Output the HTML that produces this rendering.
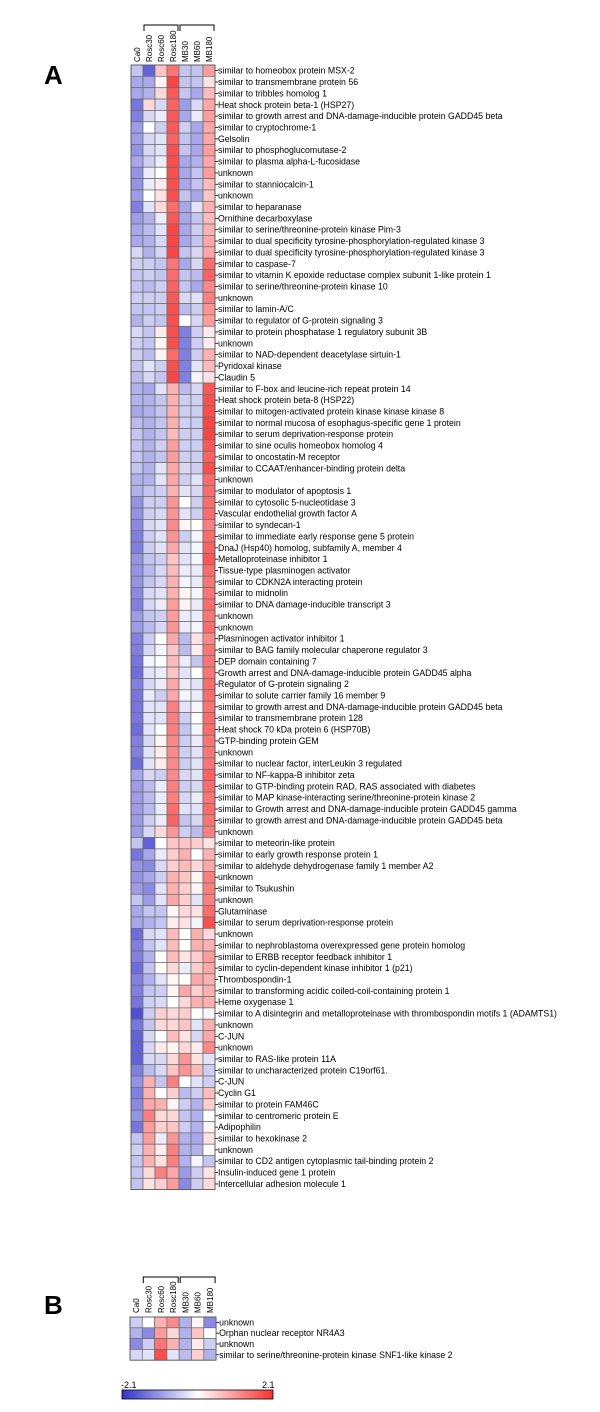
<!DOCTYPE html>
<html><head><meta charset="utf-8">
<style>
html,body{margin:0;padding:0;background:#fff;}
svg{display:block;font-family:"Liberation Sans",Arial,sans-serif;}
</style></head>
<body>
<svg id="fig" width="600" height="1412" viewBox="0 0 600 1412">
<text x="44" y="84" font-size="26" font-weight="bold">A</text>
<text x="44" y="1314" font-size="26" font-weight="bold">B</text>
<g id="panelA"></g>
<g id="panelB"></g>
<g id="cbar"></g>
</svg>
<script>
const columns = ["Ca0","Rosc30","Rosc60","Rosc180","MB30","MB60","MB180"];
const groups = [{name:"Rosc",from:1,to:3},{name:"MB",from:4,to:6}];
const scaleMin = -2.1, scaleMax = 2.1;

const labelsA = [
"similar to homeobox protein MSX-2","similar to transmembrane protein 56","similar to tribbles homolog 1","Heat shock protein beta-1 (HSP27)","similar to growth arrest and DNA-damage-inducible protein GADD45 beta","similar to cryptochrome-1","Gelsolin","similar to phosphoglucomutase-2","similar to plasma alpha-L-fucosidase","unknown","similar to stanniocalcin-1","unknown","similar to heparanase","Ornithine decarboxylase","similar to serine/threonine-protein kinase Pim-3","similar to dual specificity tyrosine-phosphorylation-regulated kinase 3","similar to dual specificity tyrosine-phosphorylation-regulated kinase 3","similar to caspase-7","similar to vitamin K epoxide reductase complex subunit 1-like protein 1","similar to serine/threonine-protein kinase 10","unknown","similar to lamin-A/C","similar to regulator of G-protein signaling 3","similar to protein phosphatase 1 regulatory subunit 3B","unknown","similar to NAD-dependent deacetylase sirtuin-1","Pyridoxal kinase","Claudin 5","similar to F-box and leucine-rich repeat protein 14","Heat shock protein beta-8 (HSP22)","similar to mitogen-activated protein kinase kinase kinase 8","similar to normal mucosa of esophagus-specific gene 1 protein","similar to serum deprivation-response protein","similar to sine oculis homeobox homolog 4","similar to oncostatin-M receptor","similar to CCAAT/enhancer-binding protein delta","unknown","similar to modulator of apoptosis 1","similar to cytosolic 5-nucleotidase 3","Vascular endothelial growth factor A","similar to syndecan-1","similar to immediate early response gene 5 protein","DnaJ (Hsp40) homolog, subfamily A, member 4","Metalloproteinase inhibitor 1","Tissue-type plasminogen activator","similar to CDKN2A interacting protein","similar to midnolin","similar to DNA damage-inducible transcript 3","unknown","unknown","Plasminogen activator inhibitor 1","similar to BAG family molecular chaperone regulator 3","DEP domain containing 7","Growth arrest and DNA-damage-inducible protein GADD45 alpha","Regulator of G-protein signaling 2","similar to solute carrier family 16 member 9","similar to growth arrest and DNA-damage-inducible protein GADD45 beta","similar to transmembrane protein 128","Heat shock 70 kDa protein 6 (HSP70B)","GTP-binding protein GEM","unknown","similar to nuclear factor, interLeukin 3 regulated","similar to NF-kappa-B inhibitor zeta","similar to GTP-binding protein RAD, RAS associated with diabetes","similar to MAP kinase-interacting serine/threonine-protein kinase 2","similar to Growth arrest and DNA-damage-inducible protein GADD45 gamma","similar to growth arrest and DNA-damage-inducible protein GADD45 beta","unknown","similar to meteorin-like protein","similar to early growth response protein 1","similar to aldehyde dehydrogenase family 1 member A2","unknown","similar to Tsukushin","unknown","Glutaminase","similar to serum deprivation-response protein","unknown","similar to nephroblastoma overexpressed gene protein homolog","similar to ERBB receptor feedback inhibitor 1","similar to cyclin-dependent kinase inhibitor 1 (p21)","Thrombospondin-1","similar to transforming acidic coiled-coil-containing protein 1","Heme oxygenase 1","similar to A disintegrin and metalloproteinase with thrombospondin motifs 1 (ADAMTS1)","unknown","C-JUN","unknown","similar to RAS-like protein 11A","similar to uncharacterized protein C19orf61.","C-JUN","Cyclin G1","similar to protein FAM46C","similar to centromeric protein E","Adipophilin","similar to hexokinase 2","unknown","similar to CD2 antigen cytoplasmic tail-binding protein 2","Insulin-induced gene 1 protein","Intercellular adhesion molecule 1"];

const valuesA = [
[-0.6,-1.6,0.6,1.4,-0.6,-0.6,1.0],
[-0.9,-0.9,0.1,1.9,-0.6,-0.6,0.3],
[-0.9,-0.8,0.4,1.7,-0.6,-0.9,0.7],
[-1.4,0.4,-0.4,1.6,-1.0,-0.4,0.9],
[-1.3,-0.4,-0.2,1.7,-0.9,-0.2,1.0],
[-1.0,0.0,-0.5,1.7,-0.5,-0.9,0.9],
[-1.0,-0.4,-0.3,1.6,-0.6,-0.9,0.9],
[-1.1,-0.4,-0.3,1.8,-0.6,-0.9,1.0],
[-0.9,-0.5,-0.2,1.8,-0.9,-0.8,0.9],
[-1.1,-0.2,0.0,1.8,-0.9,-0.6,1.0],
[-1.1,-0.2,0.2,1.8,-0.9,-0.6,0.7],
[-1.0,0.0,0.3,1.8,-0.6,-0.9,0.6],
[-1.3,-0.3,0.4,1.5,-0.9,-0.3,0.8],
[-1.0,-0.8,-0.2,1.7,-0.9,-0.6,0.7],
[-0.9,-0.7,-0.3,1.9,-0.9,-0.5,0.8],
[-0.9,-0.8,-0.4,1.9,-0.9,-0.6,0.9],
[-0.4,-0.8,-0.4,1.9,-0.6,-0.4,0.9],
[-0.5,-0.5,-0.6,1.4,-0.9,-0.4,1.5],
[-0.6,-0.5,-0.6,1.5,-0.6,-0.7,1.6],
[-0.6,-0.7,-0.5,1.6,-0.6,-0.9,1.2],
[-0.5,-0.5,-0.5,1.7,-0.4,-0.3,1.3],
[-0.6,-0.6,-0.5,1.8,-0.7,-0.5,1.1],
[-0.8,-0.5,-0.6,1.8,0.0,-0.4,1.0],
[-0.4,-0.6,0.2,1.8,-1.3,-0.5,0.2],
[-0.5,-0.6,0.1,1.8,-1.3,-0.5,0.2],
[-0.5,-0.7,0.1,1.5,-1.3,-0.5,0.8],
[-0.6,-0.3,-0.5,1.8,-1.3,-0.3,0.7],
[-0.7,-0.4,-0.6,1.9,-1.3,-0.1,0.3],
[-0.8,-0.9,-0.3,0.8,-0.7,-0.4,1.7],
[-0.8,-0.8,-0.6,0.8,-0.5,-0.5,1.8],
[-0.9,-0.8,-0.6,0.8,-0.5,-0.5,1.8],
[-0.7,-0.8,-0.6,0.8,-0.5,-0.5,1.9],
[-0.6,-0.8,-0.6,0.7,-0.5,-0.5,1.9],
[-0.6,-0.8,-0.5,1.0,-0.5,-0.5,1.7],
[-0.6,-0.8,-0.6,1.0,-0.5,-0.5,1.6],
[-0.6,-0.8,-0.3,0.9,-0.4,-0.5,1.8],
[-0.8,-0.8,-0.3,0.9,-0.5,-0.3,1.5],
[-0.8,-0.6,-0.5,0.8,-0.3,-0.4,1.5],
[-1.1,-0.5,-0.5,1.1,0.0,-0.5,1.5],
[-1.1,-0.5,-0.4,1.1,-0.3,-0.5,1.5],
[-1.2,-0.4,-0.3,1.2,0.1,0.0,1.3],
[-1.3,-0.5,-0.3,1.1,-0.5,-0.1,1.5],
[-1.3,-0.5,-0.3,0.9,-0.3,-0.1,1.6],
[-1.1,-0.6,-0.5,0.6,-0.3,-0.1,1.7],
[-1.1,-0.7,-0.4,0.7,-0.2,-0.2,1.5],
[-1.1,-0.6,-0.4,0.8,-0.1,-0.2,1.4],
[-1.2,-0.4,-0.3,0.8,0.1,-0.1,1.4],
[-1.3,-0.4,-0.2,1.0,0.1,-0.2,1.5],
[-1.0,-0.6,-0.5,1.0,-0.2,-0.2,1.4],
[-1.0,-0.7,-0.4,1.1,-0.2,-0.1,1.5],
[-1.3,-0.5,0.0,0.9,-0.7,0.3,1.2],
[-1.3,-0.4,-0.1,0.6,-0.7,0.2,1.4],
[-1.4,-0.1,0.0,0.7,-0.2,-0.6,1.4],
[-1.5,-0.3,-0.2,0.6,-0.3,0.0,1.4],
[-1.3,-0.4,-0.2,0.9,-0.2,-0.3,1.5],
[-1.4,-0.2,-0.5,0.9,-0.1,-0.2,1.5],
[-1.4,-0.3,-0.3,1.3,-0.3,-0.1,1.4],
[-1.4,-0.3,-0.3,1.3,-0.5,0.0,1.5],
[-1.5,-0.3,0.0,1.3,-0.6,-0.1,1.5],
[-1.3,-0.4,0.1,1.2,-0.5,-0.2,1.4],
[-1.3,-0.3,0.2,1.2,-0.5,-0.3,1.4],
[-1.5,-0.3,0.2,1.2,-0.5,-0.3,1.4],
[-0.9,-0.4,-0.5,1.2,-0.4,-0.3,1.6],
[-1.0,-0.7,-0.2,1.3,-0.5,-0.4,1.5],
[-1.0,-0.7,-0.2,1.3,-0.4,-0.2,1.4],
[-1.0,-0.7,-0.2,1.5,-0.3,-0.3,1.5],
[-1.0,-0.5,-0.2,1.6,-0.6,-0.4,1.4],
[-1.0,-0.4,0.4,1.1,-0.5,-0.7,1.3],
[-0.6,-1.6,0.0,0.6,0.6,0.5,0.3],
[-1.4,-0.9,-0.2,0.5,0.8,0.0,0.8],
[-1.1,-1.2,-0.4,0.5,0.7,0.4,0.9],
[-1.1,-0.9,-0.5,0.8,0.6,0.1,1.3],
[-1.0,-1.2,-0.3,0.8,0.5,0.1,1.3],
[-0.6,-1.0,-0.3,0.9,0.5,-0.3,1.3],
[-0.9,-0.6,-0.6,0.1,0.4,0.3,1.5],
[-0.9,-0.8,-0.6,0.2,0.3,-0.1,1.8],
[-1.5,-0.4,-0.3,0.7,0.0,0.8,0.4],
[-1.3,-0.6,-0.3,0.7,0.0,0.8,0.8],
[-1.3,-0.8,0.0,0.7,0.3,0.5,1.0],
[-1.5,-0.6,0.0,0.4,-0.2,0.5,0.9],
[-1.3,-0.8,-0.3,0.1,0.0,0.9,0.8],
[-1.3,-0.6,-0.5,0.1,0.9,0.5,0.8],
[-1.4,-0.5,-0.4,0.0,0.4,0.8,0.8],
[-1.8,-0.5,0.5,0.4,0.5,0.0,-0.1],
[-1.4,-0.6,0.4,0.4,0.6,-0.3,0.8],
[-1.6,-0.4,0.0,0.7,0.3,-0.4,0.9],
[-1.6,-0.4,0.2,0.1,0.4,0.2,1.2],
[-1.6,-0.4,-0.4,0.4,1.1,0.3,-0.3],
[-1.3,-0.7,-0.4,0.6,1.1,0.7,-0.5],
[-1.1,0.8,-0.6,1.3,0.0,-0.3,-0.5],
[-1.3,0.8,0.0,0.5,-0.7,-0.5,0.7],
[-1.2,0.9,0.8,0.1,-0.5,-0.8,0.5],
[-1.1,1.3,0.4,0.4,-0.6,-0.8,0.0],
[-1.4,1.0,0.5,0.6,-0.5,-0.8,0.1],
[-0.6,1.0,-0.2,1.1,-0.8,-0.9,0.3],
[-0.5,0.8,0.2,1.3,-0.8,-0.8,0.0],
[-0.6,0.8,0.3,1.3,-0.8,-0.1,-0.6],
[-0.6,0.4,1.3,0.9,-1.0,-0.5,0.3],
[-0.6,0.3,0.5,1.0,-1.2,-0.5,0.4]];

const labelsB = ["unknown","Orphan nuclear receptor NR4A3","unknown","similar to serine/threonine-protein kinase SNF1-like kinase 2"];
const valuesB = [
[-0.5,0.0,0.8,1.2,-0.8,0.1,-1.2],
[-0.8,-1.2,1.0,0.4,-0.8,0.6,0.0],
[-1.2,-0.5,1.4,0.8,-0.8,0.2,-0.5],
[-0.4,-0.3,1.8,-0.3,-0.7,0.5,-0.8]];

const NS = "http://www.w3.org/2000/svg";
function mk(tag, attrs, parent){const e=document.createElementNS(NS,tag);for(const k in attrs)e.setAttribute(k,attrs[k]);parent.appendChild(e);return e;}
function color(v){
  let t=Math.max(-1,Math.min(1,v/scaleMax));
  if(t<0){const a=-t;return `rgb(${Math.round(255-a*205)},${Math.round(255-a*205)},${Math.round(255-a*50)})`;}
  const a=t;return `rgb(${Math.round(255-a*8)},${Math.round(255-a*205)},${Math.round(255-a*205)})`;
}

function drawPanel(g, labels, values, x0, top, colW, rowH, bracketY, labelBottom){
  const xCol = i => x0 + i*colW;
  const yRow = r => top + r*rowH;
  columns.forEach((c,i)=>{
    const t=mk("text",{x:0,y:0,"font-size":"8","transform":`translate(${xCol(i)+colW/2+3},${labelBottom}) rotate(-90)`,fill:"#000"},g);
    t.textContent=c;
    
    
  });
  groups.forEach(gr=>{
    const xa=xCol(gr.from)+1, xb=xCol(gr.to+1)-1;
    const p=mk("path",{d:`M${xa},${bracketY+6}V${bracketY}H${xb}V${bracketY+6}`,fill:"none",stroke:"#000","stroke-width":"1"},g);
    
    
  });
  values.forEach((row,r)=>{
    row.forEach((v,i)=>{
      const rc=mk("rect",{x:xCol(i),y:yRow(r),width:colW,height:rowH,fill:color(v),stroke:"#6a6a6a","stroke-width":"0.7"},g);
      
      
    });
    const xe=xCol(columns.length);
    const tk=mk("line",{x1:xe,x2:xe+3,y1:yRow(r)+rowH/2,y2:yRow(r)+rowH/2,stroke:"#000","stroke-width":"0.8"},g);
    
    
    const t=mk("text",{x:xe+3,y:yRow(r)+rowH/2+3,"font-size":"8.75",fill:"#000"},g);
    t.textContent=labels[r];
    
    
  });
  const fr=mk("rect",{x:x0,y:top,width:colW*columns.length,height:rowH*values.length,fill:"none",stroke:"#555","stroke-width":"0.8"},g);
  
  
}

drawPanel(document.getElementById("panelA"), labelsA, valuesA, 131, 65, 12, 11.36, 25, 62);
drawPanel(document.getElementById("panelB"), labelsB, valuesB, 130, 1317, 12.3, 10.8, 1277, 1313);

const cb=document.getElementById("cbar");
const defs=mk("defs",{},cb);
const lg=mk("linearGradient",{id:"cg",x1:"0",x2:"1",y1:"0",y2:"0"},defs);
[scaleMin,0,scaleMax].forEach((v,i)=>mk("stop",{offset:(i*50)+"%","stop-color":color(v)},lg));
const bar=mk("rect",{x:122,y:1390,width:151,height:9,fill:"url(#cg)",stroke:"#000","stroke-width":"0.8"},cb);


const t1=mk("text",{x:121,y:1388,"font-size":"9"},cb);t1.textContent=scaleMin.toFixed(1);


const t2=mk("text",{x:262,y:1388,"font-size":"9"},cb);t2.textContent=scaleMax.toFixed(1);


</script>
</body></html>
